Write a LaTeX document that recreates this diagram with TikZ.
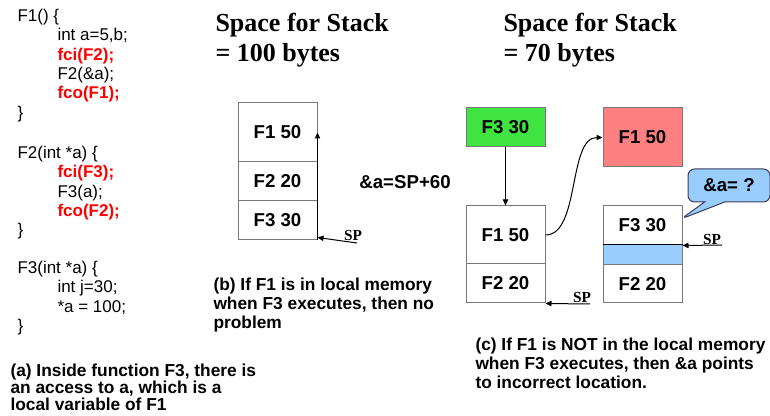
\documentclass[tikz,border=0pt]{standalone}
\usepackage{fontspec}
\setmainfont{Liberation Sans}
\newfontfamily\serifbf{Liberation Serif}
\usetikzlibrary{arrows.meta,shapes.callouts}

\definecolor{codered}{RGB}{255,0,0}
\definecolor{boxgreen}{RGB}{64,228,64}
\definecolor{boxred}{RGB}{255,128,128}
\definecolor{boxblue}{RGB}{153,204,255}
\definecolor{boxline}{RGB}{120,120,120}
\definecolor{calloutline}{RGB}{60,60,90}

\newcommand{\redcall}[1]{\textcolor{codered}{\bfseries #1}}
\newcommand{\ind}{\hspace*{30pt}}

\tikzset{every picture/.style={line width=0.75pt}}
\tikzset{
  stackbox/.style={draw=boxline, minimum width=59.25pt, inner sep=0pt, font=\fontsize{14}{16}\selectfont\bfseries},
  codetext/.style={anchor=north west, inner sep=0pt, align=left, font=\fontsize{12.75}{14.55}\selectfont},
  captext/.style={anchor=north west, inner sep=0pt, align=left, font=\fontsize{13}{14.6}\selectfont\bfseries},
  headtext/.style={anchor=north west, inner sep=0pt, align=left, font=\fontsize{19.5}{22}\serifbf\bfseries},
  sptext/.style={inner sep=0pt, font=\fontsize{11.5}{12}\serifbf\bfseries},
  ptr/.style={-{Triangle[length=4.5pt,width=4pt]}},
}

\begin{document}
\begin{tikzpicture}[x=0.75pt,y=0.75pt,yscale=-1,xscale=1]
        \useasboundingbox (0,0) rectangle (770,416);

        %Code of the three functions
        \node[codetext] (codeF1) at (17,8.5) {F1() \{\\ \ind int a=5,b;\\ \ind\redcall{fci(F2);}\\ \ind F2(\&a);\\ \ind\redcall{fco(F1);}\\ \}};
        \node[codetext] (codeF2) at (17,145.5) {F2(int *a) \{\\ \ind\redcall{fci(F3);}\\ \ind F3(a);\\ \ind\redcall{fco(F2);}\\ \}};
        \node[codetext] (codeF3) at (17,260.5) {F3(int *a) \{\\ \ind int j=30;\\ \ind *a = 100;\\ \}};
        \node[captext, font=\fontsize{13}{13.1}\selectfont\bfseries] (capA) at (10,363) {(a) Inside function F3, there is\\an access to a, which is a\\local variable of F1};

        %Stack of 100 bytes
        \node[headtext] (headB) at (215,13) {Space for Stack\\= 100 bytes};
        \node[stackbox, minimum height=44.25pt] (bF1) at (277.5,132.5) {F1 50};
        \node[stackbox, minimum height=29.25pt] (bF2) at (277.5,181.5) {F2 20};
        \node[stackbox, minimum height=29.25pt] (bF3) at (277.5,220.5) {F3 30};
        \draw[ptr] (bF3.south east) -- (bF1.east);
        \node[font=\fontsize{14}{16}\selectfont\bfseries, inner sep=0pt] (addrB) at (405,182) {\&a=SP+60};
        \node[sptext] (spB) at (353,235) {SP};
        \coordinate (spBtail) at (357,243);
        \draw[ptr] (spBtail) -- ([yshift=-2.25pt]bF3.south east);
        \node[captext] (capB) at (213,277) {(b) If F1 is in local memory\\when F3 executes, then no\\problem};

        %Stack of 70 bytes
        \node[headtext] (headC) at (503,13) {Space for Stack\\= 70 bytes};
        \node[stackbox, fill=boxgreen, minimum height=29.25pt] (cF3) at (505.5,127.5) {F3 30};
        \node[stackbox, minimum height=43.5pt] (cF1) at (505.5,235) {F1 50};
        \node[stackbox, minimum height=29.25pt] (cF2) at (505.5,283.5) {F2 20};
        \draw[ptr] (cF3) -- (cF1);
        \node[stackbox, fill=boxred, minimum height=44.25pt] (mF1) at (642.5,137.5) {F1 50};
        \draw[ptr] (cF1.east) .. controls (580,235) and (568,137.5) .. (mF1.west);
        \node[sptext] (spC) at (582,297) {SP};
        \coordinate (spCtail) at (590,304);
        \draw[ptr] (spCtail) -- (cF2.south east);

        \node[stackbox, minimum height=29.25pt] (rF3) at (642.5,225.5) {F3 30};
        \node[stackbox, fill=boxblue, minimum height=15pt] (rGap) at (642.5,255) {};
        \node[stackbox, minimum height=28.5pt] (rF2) at (642.5,284) {F2 20};
        \draw (rGap.north west) -- (rGap.north east);
        \node[sptext] (spR) at (712,239.5) {SP};
        \coordinate (spRtail) at (722,245);
        \draw[ptr] (spRtail) -- (rF3.south east);
        \node[rectangle callout, rounded corners=5pt, draw=calloutline, fill=boxblue, minimum width=61.5pt, minimum height=24.75pt, inner sep=0pt, callout absolute pointer={(681,219)}, callout pointer width=15pt, font=\fontsize{14}{16}\selectfont\bfseries] (askR) at (729,185.5) {\&a= ?};
        \node[captext] (capC) at (475,337) {(c) If F1 is NOT in the local memory\\when F3 executes, then \&a points\\to incorrect location.};

\end{tikzpicture}
\end{document}
